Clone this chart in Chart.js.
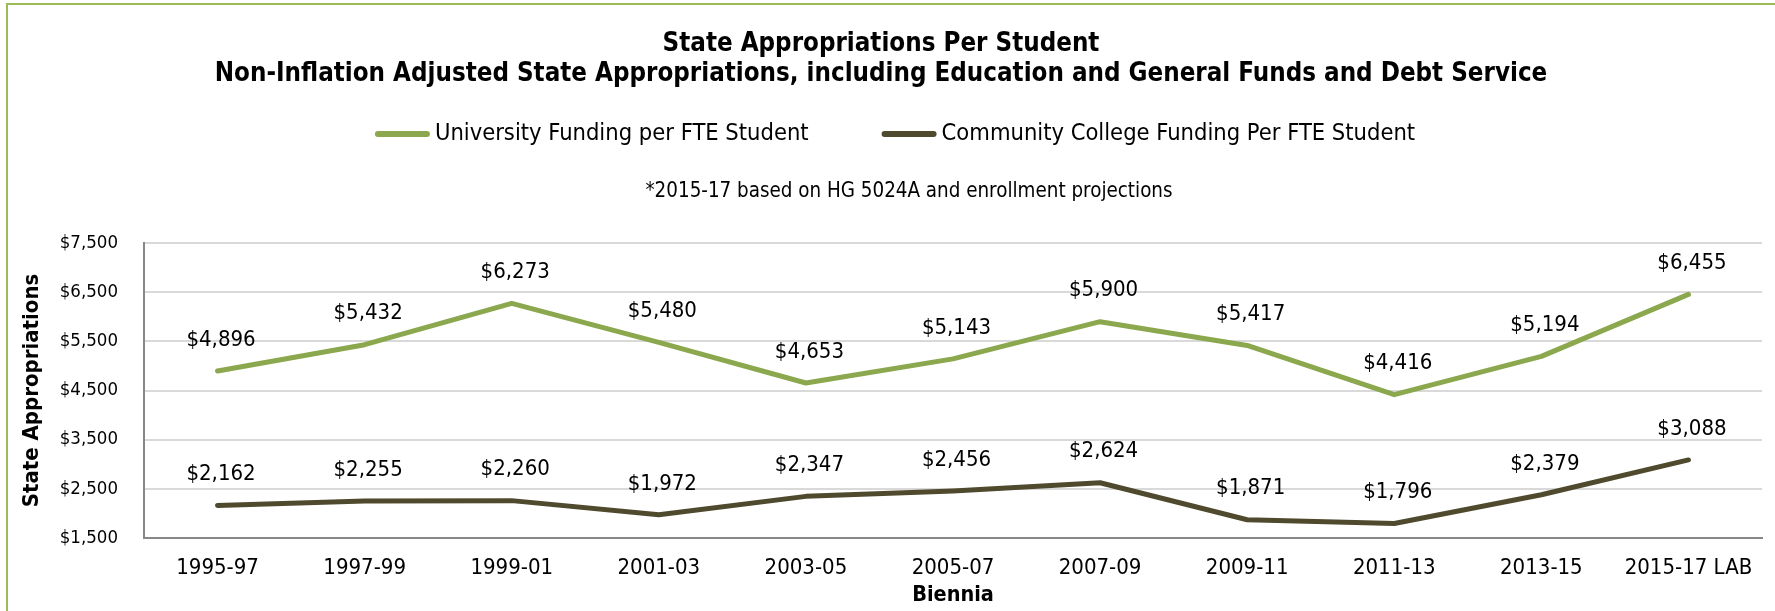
<!DOCTYPE html>
<html>
<head>
<meta charset="utf-8">
<script src="https://cdn.jsdelivr.net/npm/chart.js@4/dist/chart.umd.min.js"></script>
<style>
  html, body { margin: 0; padding: 0; background: #fff; }
  #wrap { position: relative; width: 1775px; height: 611px; }
  #frame { position: absolute; left: 6px; top: 3px; right: -2px; bottom: -2px;
           border-left: 2px solid #9bbb59; border-top: 2px solid #9bbb59; }
  canvas { position: absolute; left: 0; top: 0; }
</style>
</head>
<body>
<div id="wrap">
  <div id="frame"></div>
  <canvas id="chart" width="1775" height="611"></canvas>
</div>
<script>
const FONT = "'DejaVu Sans Condensed', 'DejaVu Sans', sans-serif";

// data
const biennia = ['1995-97', '1997-99', '1999-01', '2001-03', '2003-05', '2005-07',
                 '2007-09', '2009-11', '2011-13', '2013-15', '2015-17 LAB'];
const universityFunding = [4896, 5432, 6273, 5480, 4653, 5143, 5900, 5417, 4416, 5194, 6455];
const collegeFunding = [2162, 2255, 2260, 1972, 2347, 2456, 2624, 1871, 1796, 2379, 3088];
const yTicks = [1500, 2500, 3500, 4500, 5500, 6500, 7500];
const noteText = '*2015-17 based on HG 5024A and enrollment projections';

const money = v => '$' + v.toLocaleString('en-US');

// value labels above each point
const pointLabels = {
  id: 'pointLabels',
  afterDatasetsDraw(chart) {
    const ctx = chart.ctx;
    ctx.save();
    ctx.font = '22px ' + FONT;
    ctx.fillStyle = '#000';
    ctx.textAlign = 'center';
    ctx.textBaseline = 'middle';
    chart.data.datasets.forEach((ds, i) => {
      chart.getDatasetMeta(i).data.forEach((pt, j) => {
        ctx.fillText(money(ds.data[j]), pt.x + 3.5, pt.y - 31);
      });
    });
    ctx.restore();
  }
};

// legend drawn as short lines, like the original, plus the note under it
const lineLegend = {
  id: 'lineLegend',
  afterDraw(chart) {
    const ctx = chart.ctx;
    const y = 134, lineW = 55, gapText = 5, gapItem = 73;
    ctx.save();
    ctx.font = '23.5px ' + FONT;
    const items = chart.data.datasets.map(ds => ({
      text: ds.label, color: ds.borderColor, w: ctx.measureText(ds.label).width
    }));
    let total = items.reduce((s, it) => s + lineW + gapText + it.w, 0) + gapItem * (items.length - 1);
    let x = 895 - total / 2;
    ctx.textBaseline = 'middle';
    ctx.textAlign = 'left';
    items.forEach(it => {
      ctx.strokeStyle = it.color;
      ctx.lineWidth = 6;
      ctx.lineCap = 'round';
      ctx.beginPath();
      ctx.moveTo(x + 3, y);
      ctx.lineTo(x + lineW - 3, y);
      ctx.stroke();
      ctx.fillStyle = '#000';
      ctx.fillText(it.text, x + lineW + gapText, y);
      x += lineW + gapText + it.w + gapItem;
    });

    // note
    ctx.font = '20.4px ' + FONT;
    ctx.textAlign = 'center';
    ctx.fillText(noteText, 909, 192);
    ctx.restore();
  }
};

new Chart(document.getElementById('chart'), {
  type: 'line',
  data: {
    labels: biennia,
    datasets: [
      { label: 'University Funding per FTE Student', data: universityFunding,
        borderColor: '#8ba84e', backgroundColor: '#8ba84e' },
      { label: 'Community College Funding Per FTE Student', data: collegeFunding,
        borderColor: '#4f4a2e', backgroundColor: '#4f4a2e' }
    ]
  },
  options: {
    responsive: false,
    animation: false,
    devicePixelRatio: 1,
    layout: { padding: { left: 0, right: 13, top: 0, bottom: 0 } },
    elements: {
      line: { borderWidth: 5, tension: 0, borderCapStyle: 'round', borderJoinStyle: 'round' },
      point: { radius: 0, hoverRadius: 0 }
    },
    plugins: {
      legend: { display: false },
      tooltip: { enabled: false },
      title: {
        display: true,
        text: ['State Appropriations Per Student',
               'Non-Inflation Adjusted State Appropriations, including Education and General Funds and Debt Service'],
        color: '#000',
        font: { family: FONT, size: 25.7, weight: 'bold', lineHeight: '30px' },
        padding: { top: 29.3, bottom: 153.7 }
      }
    },
    scales: {
      x: {
        offset: true,
        grid: { display: false, drawTicks: false },
        border: { color: '#878787', width: 2 },
        ticks: { color: '#000', font: { family: FONT, size: 22 }, padding: 17, maxRotation: 0 },
        title: { display: true, text: 'Biennia', color: '#000',
                 font: { family: FONT, size: 21.5, weight: 'bold' }, padding: { top: 0, bottom: 2.6 } },
        afterFit(scale) { scale.height = 73; }
      },
      y: {
        min: 1500,
        max: 7500,
        afterBuildTicks(scale) { scale.ticks = yTicks.map(v => ({ value: v })); },
        grid: { color: '#d9d9d9', lineWidth: 2, drawTicks: false },
        border: { color: '#878787', width: 2 },
        ticks: { color: '#000', font: { family: FONT, size: 18.5 }, padding: 26,
                 callback: v => money(v) },
        title: { display: true, text: 'State Appropriations', color: '#000',
                 font: { family: FONT, size: 22, weight: 'bold' }, padding: { top: 18.8, bottom: 0 } },
        afterFit(scale) { scale.width = 144; }
      }
    }
  },
  plugins: [pointLabels, lineLegend]
});
</script>
</body>
</html>
